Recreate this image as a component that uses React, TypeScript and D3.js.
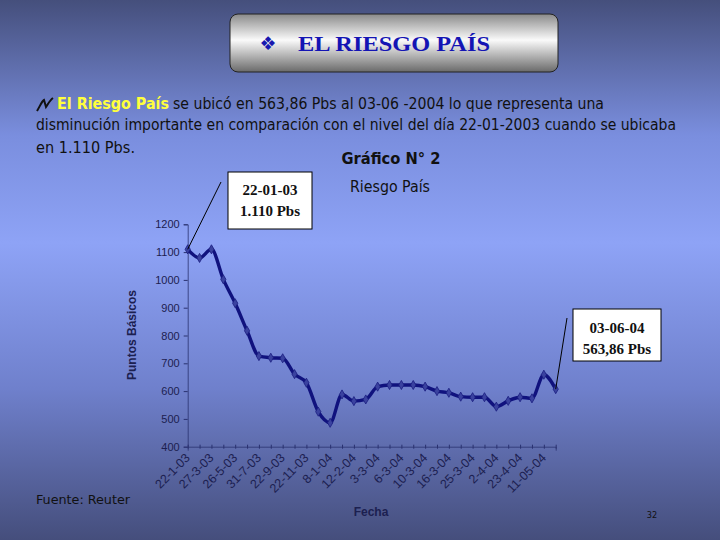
import React, { useEffect, useRef } from 'react';
import * as d3 from 'd3';

// Riesgo País, puntos básicos (one value per observation)
const values = [
  1110, 1079, 1110, 1002, 916, 817, 726, 720, 718, 661, 630, 526, 486, 588, 564, 570,
  616, 622, 622, 622, 616, 600, 594, 580, 578, 578, 544, 565, 578, 574, 659, 607,
];

// labels shown on every other observation
const tickLabels = [
  '22-1-03', '27-3-03', '26-5-03', '31-7-03', '22-9-03', '22-11-03', '8-1-04', '12-2-04',
  '3-3-04', '6-3-04', '10-3-04', '16-3-04', '25-3-04', '2-4-04', '23-4-04', '11-05-04',
];

const yTicks = [400, 500, 600, 700, 800, 900, 1000, 1100, 1200];

export default function App() {
  const svgRef = useRef<SVGSVGElement>(null);

  useEffect(() => {
    if (!svgRef.current) return;
    const svg = d3.select(svgRef.current);
    svg.selectAll('*').remove();

    const width = 720;
    const height = 540;

    // background
    const defs = svg.append('defs');
    const bg = defs.append('linearGradient').attr('id', 'bg').attr('x1', 0).attr('y1', 0).attr('x2', 0).attr('y2', 1);
    bg.append('stop').attr('offset', '0%').attr('stop-color', '#454f7c');
    bg.append('stop').attr('offset', '25%').attr('stop-color', '#7a8ede');
    bg.append('stop').attr('offset', '45%').attr('stop-color', '#8ea3f6');
    bg.append('stop').attr('offset', '72%').attr('stop-color', '#6f80cc');
    bg.append('stop').attr('offset', '100%').attr('stop-color', '#454e7c');
    svg.append('rect').attr('width', width).attr('height', height).attr('fill', 'url(#bg)');

    // title box
    const tg = defs.append('linearGradient').attr('id', 'titleg').attr('x1', 0).attr('y1', 0).attr('x2', 0).attr('y2', 1);
    tg.append('stop').attr('offset', '0%').attr('stop-color', '#8a8a8a');
    tg.append('stop').attr('offset', '45%').attr('stop-color', '#fafafa');
    tg.append('stop').attr('offset', '100%').attr('stop-color', '#6a6a6a');
    svg.append('rect')
      .attr('x', 230).attr('y', 14).attr('width', 328).attr('height', 58).attr('rx', 8)
      .attr('fill', 'url(#titleg)').attr('stroke', '#222').attr('stroke-width', 1);
    svg.append('text')
      .attr('x', 268).attr('y', 50).attr('font-family', 'DejaVu Sans').attr('font-size', 19)
      .attr('fill', '#1818b0').attr('text-anchor', 'middle').text('❖');
    svg.append('text')
      .attr('x', 298).attr('y', 51).attr('font-family', '"Liberation Serif", "Times New Roman", serif')
      .attr('font-size', 22).attr('font-weight', 'bold').attr('fill', '#1414b4')
      .attr('textLength', 192).attr('lengthAdjust', 'spacingAndGlyphs')
      .text('EL RIESGO PAÍS');

    // paragraph
    const para = '"DejaVu Sans Condensed", "DejaVu Sans", sans-serif';
    svg.append('path')
      .attr('d', 'M37,111 C40,106 42,101 44,100 L46,107 C48,104 50,100 53,98')
      .attr('fill', 'none').attr('stroke', '#111').attr('stroke-width', 2);
    svg.append('text').attr('x', 57).attr('y', 109).attr('font-family', para).attr('font-size', 15)
      .attr('font-weight', 'bold').attr('fill', '#ffff3c').attr('textLength', 112).attr('lengthAdjust', 'spacingAndGlyphs')
      .text('El Riesgo País');
    svg.append('text').attr('x', 173).attr('y', 109).attr('font-family', para).attr('font-size', 15)
      .attr('fill', '#111').attr('textLength', 431).attr('lengthAdjust', 'spacingAndGlyphs')
      .text('se ubicó en 563,86 Pbs al 03-06 -2004 lo que representa una');
    svg.append('text').attr('x', 36).attr('y', 130).attr('font-family', para).attr('font-size', 15)
      .attr('fill', '#111').attr('textLength', 640).attr('lengthAdjust', 'spacingAndGlyphs')
      .text('disminución importante en comparación con el nivel del día 22-01-2003 cuando se ubicaba');
    svg.append('text').attr('x', 36).attr('y', 153).attr('font-family', para).attr('font-size', 15)
      .attr('fill', '#111').attr('textLength', 99).attr('lengthAdjust', 'spacingAndGlyphs')
      .text('en 1.110 Pbs.');

    svg.append('text').attr('x', 391).attr('y', 164).attr('font-family', para).attr('font-size', 15)
      .attr('font-weight', 'bold').attr('fill', '#111').attr('text-anchor', 'middle')
      .attr('textLength', 99).attr('lengthAdjust', 'spacingAndGlyphs').text('Gráfico N° 2');
    svg.append('text').attr('x', 390).attr('y', 192).attr('font-family', para).attr('font-size', 15)
      .attr('fill', '#111').attr('text-anchor', 'middle')
      .attr('textLength', 80).attr('lengthAdjust', 'spacingAndGlyphs').text('Riesgo País');

    // scales
    const x = d3.scaleLinear().domain([0, values.length - 1]).range([187.7, 555.7]);
    const y = d3.scaleLinear().domain([400, 1200]).range([446.7, 224.3]);
    const axisColor = '#1c2050';
    const axisFont = '"Liberation Sans", Arial, sans-serif';

    // y axis
    const yAxis = svg.append('g')
      .attr('transform', `translate(${x(0)},0)`)
      .call(d3.axisLeft(y).tickValues(yTicks).tickSize(4).tickPadding(4).tickFormat(d3.format('d')));
    yAxis.select('.domain').attr('stroke', '#2a3270').attr('stroke-width', 0.8);
    yAxis.selectAll('.tick line').attr('stroke', '#2a3270');
    yAxis.selectAll('.tick text').attr('fill', axisColor).attr('font-family', axisFont).attr('font-size', 11);

    // x axis
    const idx = d3.range(values.length);
    const xAxis = svg.append('g')
      .attr('transform', `translate(0,${y(400)})`)
      .call(d3.axisBottom(x).tickValues(idx).tickSize(4).tickFormat(() => ''));
    xAxis.select('.domain').attr('stroke', '#2a3270').attr('stroke-width', 0.8);
    xAxis.selectAll('.tick line').attr('stroke', '#2a3270').attr('transform', 'translate(0,-2)');

    svg.append('g').selectAll('text')
      .data(tickLabels)
      .enter().append('text')
      .attr('transform', (_, i) => `translate(${x(i * 2) + 3},${y(400) + 12}) rotate(-45)`)
      .attr('text-anchor', 'end')
      .attr('font-family', axisFont).attr('font-size', 12.5).attr('fill', axisColor)
      .text(d => d);

    svg.append('text')
      .attr('transform', 'translate(136,335) rotate(-90)')
      .attr('text-anchor', 'middle').attr('font-family', axisFont).attr('font-size', 12)
      .attr('font-weight', 'bold').attr('fill', axisColor).text('Puntos Básicos');
    svg.append('text')
      .attr('x', 371).attr('y', 516).attr('text-anchor', 'middle').attr('font-family', axisFont)
      .attr('font-size', 12).attr('font-weight', 'bold').attr('fill', axisColor).text('Fecha');

    // series
    const line = d3.line<number>().x((_, i) => x(i)).y(d => y(d)).curve(d3.curveMonotoneX);
    svg.append('path').datum(values)
      .attr('fill', 'none').attr('stroke', '#10127e').attr('stroke-width', 3.4)
      .attr('stroke-linejoin', 'round').attr('d', line);
    svg.append('g').selectAll('path')
      .data(values)
      .enter().append('path')
      .attr('transform', (d, i) => `translate(${x(i)},${y(d)})`)
      .attr('d', d3.symbol().type(d3.symbolDiamond).size(24)())
      .attr('fill', '#3a42a0').attr('stroke', '#1a1e80').attr('stroke-width', 0.8);

    // annotations
    const first = values[0];
    const last = values[values.length - 1];
    svg.append('line')
      .attr('x1', x(0)).attr('y1', y(first)).attr('x2', 221).attr('y2', 182)
      .attr('stroke', '#000').attr('stroke-width', 1);
    svg.append('rect').attr('x', 228).attr('y', 172).attr('width', 84).attr('height', 57)
      .attr('fill', '#fff').attr('stroke', '#000').attr('stroke-width', 1);
    const annFont = '"Liberation Serif", "Times New Roman", serif';
    svg.append('text').attr('x', 270).attr('y', 195).attr('text-anchor', 'middle')
      .attr('font-family', annFont).attr('font-size', 15).attr('font-weight', 'bold').attr('fill', '#111').text('22-01-03');
    svg.append('text').attr('x', 270).attr('y', 216).attr('text-anchor', 'middle')
      .attr('font-family', annFont).attr('font-size', 15).attr('font-weight', 'bold').attr('fill', '#111').text('1.110 Pbs');

    svg.append('line')
      .attr('x1', x(values.length - 1)).attr('y1', y(last)).attr('x2', 567).attr('y2', 318)
      .attr('stroke', '#000').attr('stroke-width', 1);
    svg.append('rect').attr('x', 573).attr('y', 309).attr('width', 88).attr('height', 52)
      .attr('fill', '#fff').attr('stroke', '#000').attr('stroke-width', 1);
    svg.append('text').attr('x', 617).attr('y', 333).attr('text-anchor', 'middle')
      .attr('font-family', annFont).attr('font-size', 15).attr('font-weight', 'bold').attr('fill', '#111').text('03-06-04');
    svg.append('text').attr('x', 617).attr('y', 354).attr('text-anchor', 'middle')
      .attr('font-family', annFont).attr('font-size', 15).attr('font-weight', 'bold').attr('fill', '#111').text('563,86 Pbs');

    // footer
    svg.append('text').attr('x', 36).attr('y', 504).attr('font-family', para).attr('font-size', 13)
      .attr('fill', '#111').attr('textLength', 94).attr('lengthAdjust', 'spacingAndGlyphs').text('Fuente: Reuter');
    svg.append('text').attr('x', 652).attr('y', 518).attr('text-anchor', 'middle').attr('font-family', para)
      .attr('font-size', 9).attr('fill', '#111').text('32');
  }, []);

  return (
    <div style={{ position: 'absolute', left: 0, top: 0 }}>
      <svg ref={svgRef} width={720} height={540} style={{ display: 'block' }} />
    </div>
  );
}
